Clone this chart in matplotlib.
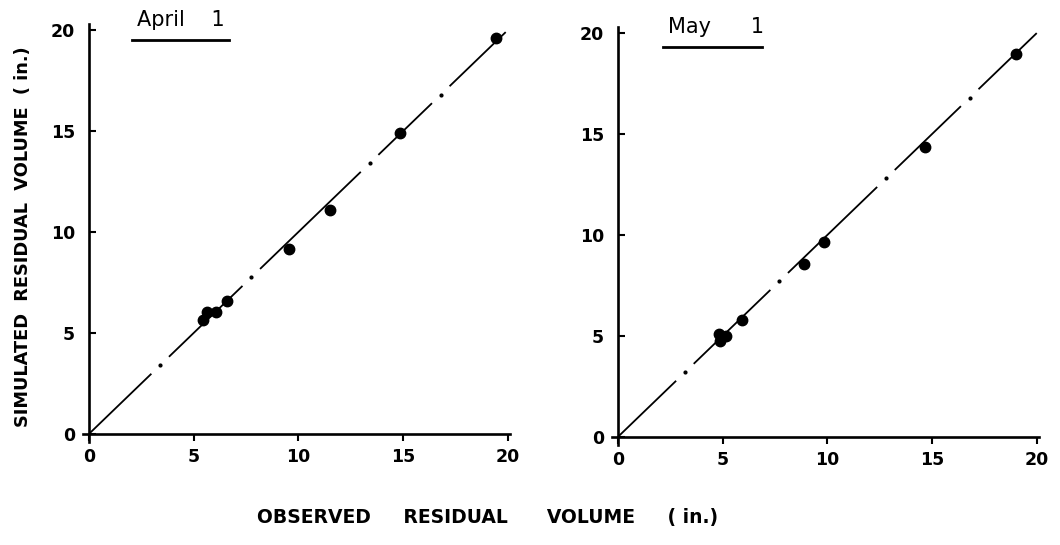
import numpy as np
import matplotlib.pyplot as plt

# April 1 panel
apr_obs = [5.45, 5.65, 6.05, 6.6, 9.55, 11.5, 14.85, 19.45]
apr_sim = [5.65, 6.05, 6.05, 6.6, 9.15, 11.1, 14.9, 19.6]
apr_breaks = [3.4, 7.75, 13.4, 16.8]
apr_end = 19.9

# May 1 panel
may_obs = [4.82, 4.88, 5.14, 5.92, 8.9, 9.82, 14.65, 19.0]
may_sim = [5.1, 4.75, 5.0, 5.8, 8.55, 9.65, 14.35, 18.95]
may_breaks = [3.2, 7.7, 12.8, 16.8]
may_end = 20.0

ticks = [0, 5, 10, 15, 20]

fig = plt.figure(figsize=(10.6, 5.45), dpi=100)
ax1 = fig.add_axes([0.078, 0.189, 0.405, 0.778])
ax2 = fig.add_axes([0.577, 0.1835, 0.405, 0.778])

def one_to_one(ax, breaks, end, gap=0.42):
    # 1:1 line, broken by small gaps with a dot in each
    starts = [0] + [b + gap for b in breaks]
    stops = [b - gap for b in breaks] + [end]
    for a, b in zip(starts, stops):
        ax.plot([a, b], [a, b], color='black', lw=1.3, solid_capstyle='butt')
    ax.plot(breaks, breaks, 'o', color='black', ms=2)

def panel(ax, obs, sim, breaks, end, title, tx, ty, tw):
    one_to_one(ax, breaks, end)
    ax.plot(obs, sim, 'o', color='black', ms=7.5)
    ax.set_xlim(-0.3, 20.2)
    ax.set_ylim(-0.4, 20.6)
    for s in ['top', 'right']:
        ax.spines[s].set_visible(False)
    for s in ['left', 'bottom']:
        ax.spines[s].set_linewidth(1.9)
        ax.spines[s].set_position(('data', 0))
    ax.spines['left'].set_bounds(-0.4, 20.3)
    ax.spines['bottom'].set_bounds(-0.3, 20.1)
    ax.set_xticks(ticks)
    ax.set_yticks(ticks)
    ax.tick_params(axis='x', direction='out', length=5, width=1.5, pad=5, labelsize=12.5)
    ax.tick_params(axis='y', direction='in', length=5, width=1.5, pad=10, labelsize=12.5)
    for lab in ax.get_xticklabels() + ax.get_yticklabels():
        lab.set_fontweight('bold')
    ax.text(tx, ty, title, fontsize=15, ha='left', va='center')
    ax.plot([tx - 0.25, tx + tw], [ty - 1.0, ty - 1.0], color='black', lw=2, clip_on=False)

panel(ax1, apr_obs, apr_sim, apr_breaks, apr_end, 'April    1', 2.3, 20.5, 4.4)
panel(ax2, may_obs, may_sim, may_breaks, may_end, 'May      1', 2.4, 20.3, 4.5)

fig.text(0.022, 0.565, 'SIMULATED  RESIDUAL  VOLUME  ( in.)', rotation=90,
         ha='center', va='center', fontsize=12.8, fontweight='bold')
fig.text(0.46, 0.05, 'OBSERVED     RESIDUAL      VOLUME     ( in.)',
         ha='center', va='center', fontsize=13.5, fontweight='bold')

fig.savefig('out.png', dpi=100)
